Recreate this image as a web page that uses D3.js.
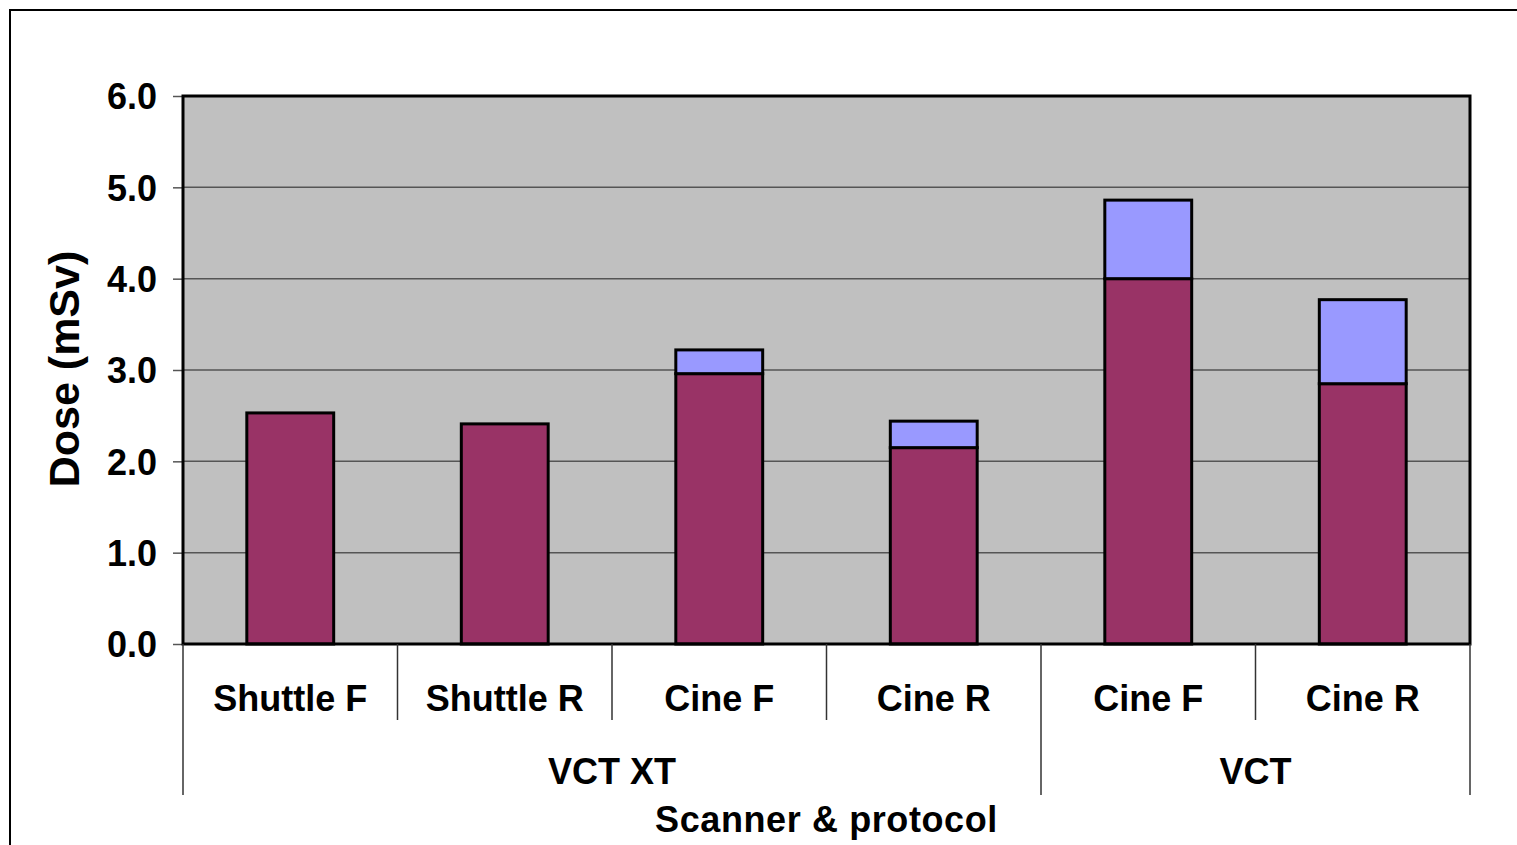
<!DOCTYPE html>
<html>
<head>
<meta charset="utf-8">
<script src="https://cdn.jsdelivr.net/npm/d3@7"></script>
<style>
  body { margin: 0; background: #fff; }
  svg { display: block; }
  text { font-family: "Liberation Sans", Arial, sans-serif; font-weight: bold; fill: #000; }
</style>
</head>
<body>
<svg id="chart" width="1517" height="845"></svg>
<script>
// data
const protocols = ["Shuttle F", "Shuttle R", "Cine F", "Cine R", "Cine F", "Cine R"]
const scanners = ["VCT XT", "VCT XT", "VCT XT", "VCT XT", "VCT", "VCT"]
const baseDose = [2.53, 2.41, 2.96, 2.15, 4.0, 2.85]
const extraDose = [0, 0, 0.26, 0.29, 0.86, 0.92]
const yTicks = [0, 1, 2, 3, 4, 5, 6]

const groups = [
    { name: "VCT XT", from: 0, to: 4 },
    { name: "VCT", from: 4, to: 6 }
]

const svg = d3.select('#chart')

const plot = { left: 183, right: 1470, top: 96, bottom: 644 }

// outer frame
svg.append('rect')
    .attr('x', 10).attr('y', 10).attr('width', 1520).attr('height', 850)
    .attr('fill', 'none').attr('stroke', '#000').attr('stroke-width', 2)

let x = d3.scaleBand().domain(d3.range(protocols.length)).range([plot.left, plot.right])
let y = d3.scaleLinear().domain([0, 6]).range([plot.bottom, plot.top])

svg.append('rect')
    .attr('x', plot.left).attr('y', plot.top)
    .attr('width', plot.right - plot.left).attr('height', plot.bottom - plot.top)
    .attr('fill', '#c0c0c0')

// gridlines
svg.append('g')
    .selectAll('line')
    .data(yTicks.slice(1, -1))
    .join('line')
    .attr('x1', plot.left).attr('x2', plot.right)
    .attr('y1', d => y(d)).attr('y2', d => y(d))
    .attr('stroke', '#555').attr('stroke-width', 1.5)

// y axis
let yAxis = svg.append('g')
    .attr('transform', `translate(${plot.left},0)`)
    .call(d3.axisLeft(y).tickValues(yTicks).tickFormat(d3.format('.1f')).tickSize(10).tickPadding(16))
yAxis.select('.domain').remove()
yAxis.selectAll('line').attr('stroke', '#555').attr('stroke-width', 1.5)
yAxis.selectAll('text')
    .attr('font-size', 36)
    .attr('font-family', '"Liberation Sans", Arial, sans-serif')
    .attr('font-weight', 'bold')
    .attr('fill', '#000')
    .attr('dy', '0.36em')

// bars
let barW = x.bandwidth() * 0.405
let bars = svg.append('g')

bars.selectAll('rect.base')
    .data(baseDose)
    .join('rect')
    .attr('class', 'base')
    .attr('x', (d, i) => x(i) + (x.bandwidth() - barW) / 2)
    .attr('width', barW)
    .attr('y', d => y(d))
    .attr('height', d => y(0) - y(d))
    .attr('fill', '#993366').attr('stroke', '#000').attr('stroke-width', 3)

bars.selectAll('rect.extra')
    .data(extraDose)
    .join('rect')
    .attr('class', 'extra')
    .attr('x', (d, i) => x(i) + (x.bandwidth() - barW) / 2)
    .attr('width', barW)
    .attr('y', (d, i) => y(baseDose[i] + d))
    .attr('height', (d, i) => y(baseDose[i]) - y(baseDose[i] + d))
    .attr('display', d => d > 0 ? null : 'none')
    .attr('fill', '#9999ff').attr('stroke', '#000').attr('stroke-width', 3)

// plot border
svg.append('rect')
    .attr('x', plot.left).attr('y', plot.top)
    .attr('width', plot.right - plot.left).attr('height', plot.bottom - plot.top)
    .attr('fill', 'none').attr('stroke', '#000').attr('stroke-width', 3)

// category axis, two levels
let cat = svg.append('g')
let edgeX = i => i === protocols.length ? plot.right : x(i)
let innerEdges = d3.range(1, protocols.length).filter(i => !groups.some(g => g.from === i))
cat.selectAll('line.inner')
    .data(innerEdges)
    .join('line')
    .attr('class', 'inner')
    .attr('x1', edgeX).attr('x2', edgeX)
    .attr('y1', plot.bottom).attr('y2', 720)
    .attr('stroke', '#333').attr('stroke-width', 1.5)

let groupEdges = groups.map(g => g.from).concat([protocols.length])
cat.selectAll('line.group')
    .data(groupEdges)
    .join('line')
    .attr('class', 'group')
    .attr('x1', edgeX).attr('x2', edgeX)
    .attr('y1', plot.bottom).attr('y2', 795)
    .attr('stroke', '#333').attr('stroke-width', 1.5)

cat.selectAll('text.proto')
    .data(protocols)
    .join('text')
    .attr('class', 'proto')
    .attr('x', (d, i) => x(i) + x.bandwidth() / 2)
    .attr('y', 711)
    .attr('text-anchor', 'middle')
    .attr('font-size', 36)
    .text(d => d)

cat.selectAll('text.grp')
    .data(groups)
    .join('text')
    .attr('class', 'grp')
    .attr('x', g => (edgeX(g.from) + edgeX(g.to)) / 2)
    .attr('y', 784)
    .attr('text-anchor', 'middle')
    .attr('font-size', 36)
    .text(g => g.name)

// axis titles
svg.append('text')
    .attr('x', (plot.left + plot.right) / 2)
    .attr('y', 832)
    .attr('text-anchor', 'middle')
    .attr('font-size', 36)
    .attr('letter-spacing', 0.6)
    .text('Scanner & protocol')

svg.append('text')
    .attr('transform', `translate(79,${(plot.top + plot.bottom) / 2 - 1}) rotate(-90)`)
    .attr('text-anchor', 'middle')
    .attr('font-size', 43)
    .text('Dose (mSv)')
</script>
</body>
</html>
